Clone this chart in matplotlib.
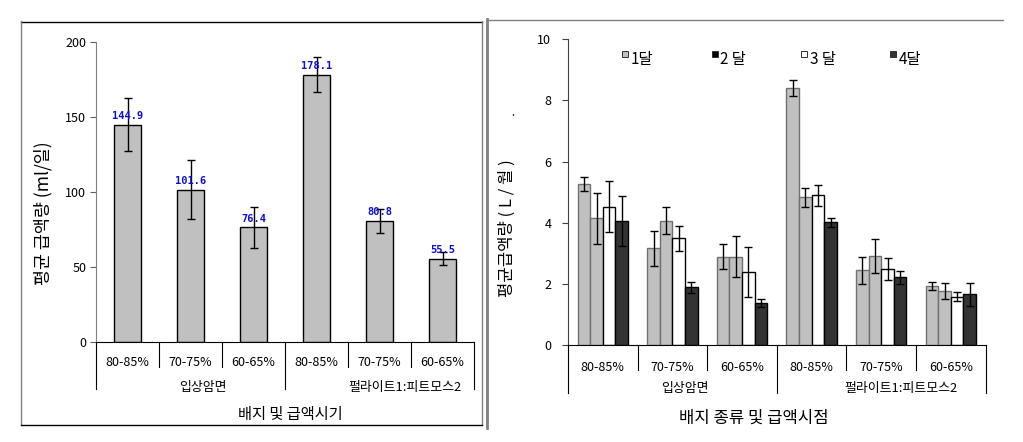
import matplotlib
matplotlib.use("Agg")
import matplotlib.pyplot as plt
from matplotlib.lines import Line2D

plt.rcParams['font.family'] = ['Noto Sans CJK KR', 'DejaVu Sans']

W, H = 1023, 442

# ---------------- data ----------------
categories = ["80-85%", "70-75%", "60-65%", "80-85%", "70-75%", "60-65%"]
groups = ["입상암면", "펄라이트1:피트모스2"]

left_values = [144.9, 101.6, 76.4, 178.1, 80.8, 55.5]
left_labels = ["144.9", "101.6", "76.4", "178.1", "80.8", "55.5"]
left_errors = [17.7, 19.5, 13.4, 11.7, 8.0, 4.3]

series_names = ["1달", "2 달", "3 달", "4달"]
m1 = [5.27, 3.16, 2.89, 8.40, 2.45, 1.93]
m1_err = [0.22, 0.56, 0.40, 0.26, 0.44, 0.12]
m2 = [4.14, 4.06, 2.89, 4.83, 2.90, 1.76]
m2_err = [0.83, 0.44, 0.67, 0.30, 0.56, 0.27]
m3 = [4.53, 3.49, 2.38, 4.90, 2.48, 1.58]
m3_err = [0.83, 0.41, 0.82, 0.35, 0.37, 0.14]
m4 = [4.06, 1.89, 1.36, 4.01, 2.22, 1.66]
m4_err = [0.82, 0.18, 0.13, 0.14, 0.21, 0.37]

left_yticks = [0, 50, 100, 150, 200]
right_yticks = [0, 2, 4, 6, 8, 10]

# ---------------- helpers ----------------
def fx(px):
    return px / W

def fy(py):
    return 1 - py / H

fig = plt.figure(figsize=(W / 100, H / 100), dpi=100)

def fline(x0, y0, x1, y1, color, lw):
    fig.add_artist(Line2D([fx(x0), fx(x1)], [fy(y0), fy(y1)], color=color, lw=lw,
                          transform=fig.transFigure))

# frames
fline(21, 21.5, 482, 21.5, "black", 1.0)
fline(21, 21, 21, 424, "#808080", 1.0)
fline(482, 21, 482, 424, "#808080", 1.0)
fline(21, 424.5, 482, 424.5, "black", 1.0)
fline(486.5, 19, 486.5, 428, "#808080", 2.0)
fline(487, 19.5, 1003, 19.5, "#808080", 1.0)

# ---------------- left chart ----------------
axL = fig.add_axes([fx(96), fy(342), (474 - 96) / W, 300 / H])
xs = [i + 0.5 for i in range(len(categories))]
axL.bar(xs, left_values, width=0.43, color="#c0c0c0", edgecolor="black", linewidth=1.0,
        yerr=left_errors, error_kw=dict(ecolor="black", elinewidth=1.0, capsize=2.8, capthick=1.0))
for x, v, t in zip(xs, left_values, left_labels):
    axL.annotate(t, (x, v), xytext=(0, 2.5), textcoords="offset points", ha="center", va="bottom",
                 color="#1010c8", fontsize=7.5, fontweight="bold", family="DejaVu Sans Mono")
axL.set_xlim(0, 6)
axL.set_ylim(0, 200)
axL.set_yticks(left_yticks)
axL.set_xticks([])
axL.tick_params(axis="y", direction="out", length=4, width=0.8, labelsize=9, pad=3, color="#606060")
for s in ["top", "right"]:
    axL.spines[s].set_visible(False)
axL.spines["left"].set_color("#808080")
axL.spines["bottom"].set_color("black")

def separators(ax, inner, outer):
    for i in range(7):
        ylow = -outer if i in (0, 3, 6) else -inner
        ax.plot([i, i], [0, ylow], color="black", lw=0.8, clip_on=False,
                transform=ax.get_xaxis_transform())

separators(axL, 0.083, 0.157)
for x, c in zip(xs, categories):
    axL.text(x, -0.067, c, transform=axL.get_xaxis_transform(), ha="center", va="center", fontsize=9)
axL.text(1.70, -0.15, groups[0], transform=axL.get_xaxis_transform(), ha="center", va="center", fontsize=9.3)
axL.text(4.90, -0.15, groups[1], transform=axL.get_xaxis_transform(), ha="center", va="center", fontsize=9.3)
axL.text(3.08, -0.243, "배지 및 급액시기", transform=axL.get_xaxis_transform(), ha="center", va="center", fontsize=11)
fig.text(fx(43), fy(213), "평균 급액량 (ml/일)", rotation=90, ha="center", va="center", fontsize=12.5)

# ---------------- right chart ----------------
axR = fig.add_axes([fx(568), fy(345), (985.7 - 568) / W, (345 - 39.3) / H])
bw = 0.181
series = [(m1, m1_err, "#c0c0c0", "#707070"),
          (m2, m2_err, "#c0c0c0", "#707070"),
          (m3, m3_err, "white", "black"),
          (m4, m4_err, "#333333", "black")]
for j, (vals, errs, fc, ec) in enumerate(series):
    pos = [x + (j - 1.5) * bw for x in xs]
    axR.bar(pos, vals, width=bw, color=fc, edgecolor=ec, linewidth=1.0,
            yerr=errs, error_kw=dict(ecolor="black", elinewidth=1.0, capsize=3, capthick=1.0))
axR.set_xlim(0, 6)
axR.set_ylim(0, 10)
axR.set_yticks(right_yticks)
axR.set_xticks([])
axR.tick_params(axis="y", direction="out", length=4, width=0.8, labelsize=9, pad=8, color="#404040")
for s in ["top", "right"]:
    axR.spines[s].set_visible(False)
axR.spines["left"].set_color("#404040")
axR.spines["bottom"].set_color("black")
separators(axR, 0.082, 0.157)
for x, c in zip(xs, categories):
    axR.text(x, -0.072, c, transform=axR.get_xaxis_transform(), ha="center", va="center", fontsize=9)
axR.text(1.68, -0.141, groups[0], transform=axR.get_xaxis_transform(), ha="center", va="center", fontsize=9.3)
axR.text(4.78, -0.141, groups[1], transform=axR.get_xaxis_transform(), ha="center", va="center", fontsize=9.3)
axR.text(2.67, -0.239, "배지 종류 및 급액시점", transform=axR.get_xaxis_transform(), ha="center", va="center", fontsize=12)
fig.text(fx(507), fy(228), "평균급액량 ( L / 월 )", rotation=90, ha="center", va="center", fontsize=12)
fig.text(fx(513), fy(113), ".", ha="center", va="center", fontsize=8)

# legend (manual, across top)
legend_marker_px = [624.7, 714.5, 803.7, 893]
legend_text_px = [630.5, 720.5, 809.5, 898.5]
marker_faces = ["#c0c0c0", "black", "white", "#333333"]
for mx, tx, name, mf in zip(legend_marker_px, legend_text_px, series_names, marker_faces):
    fig.add_artist(Line2D([fx(mx)], [fy(54)], marker="s", ms=4.5, mfc=mf, mec="#303030", mew=0.7,
                          linestyle="none", transform=fig.transFigure))
    fig.text(fx(tx), fy(59.5), name, ha="left", va="center", fontsize=11)

fig.savefig("out.png", dpi=100)
